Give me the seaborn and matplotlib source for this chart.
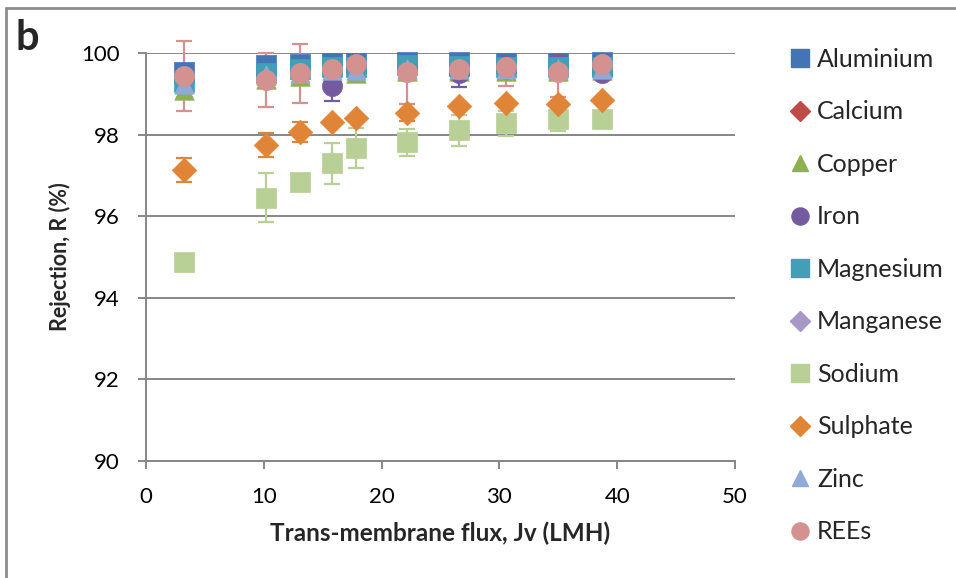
import numpy as np
import pandas as pd
import matplotlib
matplotlib.use("Agg")
import matplotlib.pyplot as plt
from matplotlib.lines import Line2D
import seaborn as sns

# ---------------- data ----------------
flux = [3.2, 10.2, 13.1, 15.8, 17.8, 22.2, 26.6, 30.6, 35.0, 38.7]

aluminium = [99.54, 99.70, 99.74, 99.75, 99.76, 99.77, 99.77, 99.76, 99.76, 99.77]
calcium   = [99.40, 99.50, 99.60, 99.65, 99.68, 99.65, 99.68, 99.70, 99.68, 99.70]
copper    = [99.09, 99.36, 99.44, 99.50, 99.50, 99.55, 99.55, 99.56, 99.56, 99.58]
iron      = [99.35, 99.50, 99.60, 99.18, 99.65, 99.65, 99.50, 99.60, 99.75, 99.50]
magnesium = [99.30, 99.50, 99.60, 99.65, 99.65, 99.70, 99.68, 99.66, 99.66, 99.66]
manganese = [99.43, 99.35, 99.50, 99.62, 99.71, 99.54, 99.61, 99.65, 99.54, 99.71]
sodium    = [94.88, 96.45, 96.83, 97.30, 97.66, 97.81, 98.11, 98.28, 98.39, 98.38]
sulphate  = [97.13, 97.74, 98.07, 98.30, 98.41, 98.54, 98.71, 98.77, 98.76, 98.85]
zinc      = [99.24, 99.45, 99.52, 99.58, 99.58, 99.62, 99.62, 99.62, 99.62, 99.62]
rees      = [99.44, 99.34, 99.50, 99.62, 99.72, 99.53, 99.61, 99.65, 99.53, 99.72]

zero = [0] * 10
sodium_err   = [0, 0.60, 0, 0.50, 0.49, 0.33, 0.38, 0.31, 0.29, 0]
sulphate_err = [0.30, 0.30, 0.25, 0, 0, 0.21, 0, 0, 0, 0]
iron_err     = [0, 0, 0, 0.35, 0, 0, 0.34, 0, 0, 0]
rees_err_minus = [0.86, 0.66, 0.72, 0, 0, 0.78, 0, 0.45, 0.60, 0]
rees_err_plus  = [0.86, 0.66, 0.72, 0, 0, 0.20, 0, 0.20, 0.20, 0]

names = ["Aluminium", "Calcium", "Copper", "Iron", "Magnesium",
         "Manganese", "Sodium", "Sulphate", "Zinc", "REEs"]
values = [aluminium, calcium, copper, iron, magnesium,
          manganese, sodium, sulphate, zinc, rees]
err_minus = [zero, zero, zero, iron_err, zero, zero, sodium_err, sulphate_err, zero, rees_err_minus]
err_plus = [zero, zero, zero, iron_err, zero, zero, sodium_err, sulphate_err, zero, rees_err_plus]
markers = ["s", "D", "^", "o", "s", "D", "s", "D", "^", "o"]
colors = ["#4375B5", "#BE4B48", "#8DB050", "#745A9E", "#41A0B8",
          "#A898C8", "#B8CF95", "#E08437", "#8FAAD6", "#D39190"]
sizes = [14.5, 12.0, 14.0, 14.5, 14.5, 12.0, 14.5, 12.5, 14.0, 14.5]
plot_sizes = [14.5, 10.0, 14.0, 14.5, 14.5, 9.5, 14.5, 12.5, 14.0, 14.5]

df = pd.DataFrame({
    "flux": np.tile(flux, len(names)),
    "R": np.concatenate(values),
    "em": np.concatenate(err_minus),
    "ep": np.concatenate(err_plus),
    "series": np.repeat(names, len(flux)),
})

# ---------------- plot ----------------
sns.set_theme(style="white")
plt.rcParams["font.family"] = ["Lato", "DejaVu Sans"]

fig = plt.figure(figsize=(9.56, 5.78), dpi=100)
ax = fig.add_axes([0.1527, 0.2024, 0.6161, 0.7059])

# error bars underneath all markers
for name, col in zip(names, colors):
    sub = df[(df["series"] == name) & ((df["em"] > 0) | (df["ep"] > 0))]
    if len(sub):
        eb = ax.errorbar(sub["flux"], sub["R"], yerr=[sub["em"], sub["ep"]],
                         fmt="none", ecolor=col, elinewidth=1.6, capsize=6,
                         capthick=1.6, zorder=2)
        for art in list(eb.lines[1]) + list(eb.lines[2]):
            art.set_clip_on(False)

for i, (name, mk, col, ms) in enumerate(zip(names, markers, colors, plot_sizes)):
    sub = df[df["series"] == name]
    sns.scatterplot(data=sub, x="flux", y="R", marker=mk, color=col,
                    s=ms ** 2, edgecolor=col, linewidth=0.5, ax=ax,
                    zorder=3 + i, legend=False, clip_on=False)

ax.set_xlim(0, 50)
ax.set_ylim(90, 100)
ax.set_xticks(range(0, 51, 10))
ax.set_yticks(range(90, 101, 2))
ax.yaxis.grid(True, color="#868686", linewidth=1.4)
ax.set_axisbelow(True)
for s in ["top", "right"]:
    ax.spines[s].set_visible(False)
for s in ["left", "bottom"]:
    ax.spines[s].set_color("#868686")
    ax.spines[s].set_linewidth(1.4)
ax.tick_params(axis="both", which="major", labelsize=16, color="#868686",
               length=6, width=1.4, direction="out", pad=13, labelcolor="black")
ax.tick_params(axis="x", bottom=True)
ax.tick_params(axis="y", left=True)

ax.set_xlabel("Trans-membrane flux, Jv (LMH)", fontsize=17.5, fontweight="bold",
              labelpad=10)
ax.set_ylabel("Rejection, R (%)", fontsize=15.5, fontweight="bold", labelpad=7)

handles = [Line2D([0], [0], marker=mk, color="none", markerfacecolor=col,
                  markeredgecolor=col, markersize=ms * 0.85)
           for mk, col, ms in zip(markers, colors, sizes)]
leg = fig.legend(handles, names, loc="upper left",
                 bbox_to_anchor=(0.826, 0.917), frameon=False,
                 fontsize=18, handlelength=0.8, handletextpad=0.3,
                 labelspacing=1.18, borderaxespad=0, borderpad=0)

fig.text(0.016, 0.934, "b", fontsize=30, fontweight="bold", ha="left",
         va="center")

# figure border (left and top only visible)
fig.add_artist(Line2D([0.0063, 0.0063], [0.0, 0.986], color="#8C8C8C",
                      linewidth=2, transform=fig.transFigure))
fig.add_artist(Line2D([0.0063, 1.0], [0.986, 0.986], color="#8C8C8C",
                      linewidth=2, transform=fig.transFigure))

fig.savefig("out.png", dpi=100)
